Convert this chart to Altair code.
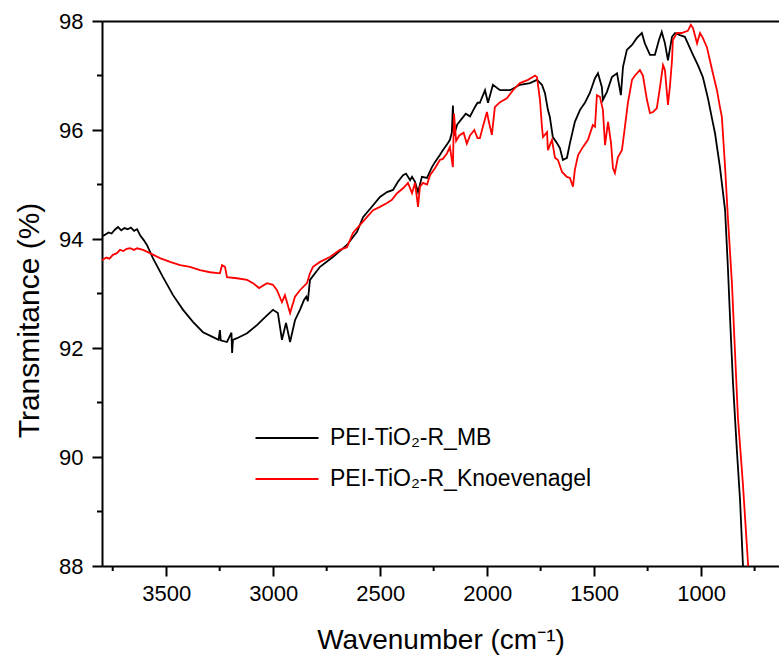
import altair as alt
import pandas as pd

# ---- data ----
mb_wn = [3800, 3785, 3770, 3755, 3740, 3725, 3710, 3695, 3680, 3665, 3650, 3636, 3622, 3605, 3590,
         3562, 3515, 3468, 3421, 3375, 3328, 3281, 3255, 3249, 3245, 3216, 3195, 3192, 3188, 3169,
         3122, 3076, 3029, 3001, 2978, 2959, 2940, 2921, 2898, 2875, 2856, 2845, 2838, 2828, 2781,
         2721, 2655, 2608, 2580, 2533, 2501, 2468, 2440, 2417, 2393, 2379, 2360, 2351, 2337, 2323,
         2305, 2281, 2258, 2244, 2221, 2207, 2183, 2174, 2165, 2160, 2155, 2140, 2120, 2100, 2080,
         2060, 2045, 2034, 2010, 1996, 1973, 1940, 1893, 1847, 1800, 1767, 1744, 1730, 1716, 1707,
         1693, 1674, 1660, 1646, 1627, 1613, 1590, 1566, 1543, 1520, 1496, 1482, 1464, 1459, 1440,
         1417, 1393, 1375, 1365, 1347, 1323, 1300, 1277, 1263, 1239, 1216, 1197, 1184, 1169, 1155,
         1136, 1122, 1099, 1076, 1062, 1038, 1015, 992, 968, 945, 935, 912, 888, 875, 865,
         851, 833, 818, 805, 798]
mb_t = [94.05, 94.08, 94.12, 94.10, 94.17, 94.22, 94.16, 94.20, 94.18, 94.21, 94.15, 94.18, 94.07, 93.98, 93.89,
        93.65, 93.30, 92.97, 92.70, 92.48, 92.29, 92.20, 92.15, 92.33, 92.14, 92.11, 92.28, 91.91, 92.15, 92.18,
        92.27, 92.42, 92.60, 92.70, 92.64, 92.15, 92.46, 92.11, 92.51, 92.70, 92.88, 92.94, 92.86, 93.25, 93.49,
        93.67, 93.89, 94.13, 94.40, 94.62, 94.77, 94.86, 94.90, 95.05, 95.17, 95.20, 95.08, 95.14, 95.05, 94.86,
        95.14, 95.12, 95.32, 95.41, 95.54, 95.63, 95.76, 95.82, 95.95, 96.45, 95.90, 96.10, 96.20, 96.30, 96.25,
        96.40, 96.50, 96.50, 96.73, 96.50, 96.83, 96.73, 96.73, 96.83, 96.86, 96.92, 96.83, 96.68, 96.37, 96.24,
        95.87, 95.76, 95.67, 95.45, 95.49, 95.76, 96.15, 96.37, 96.50, 96.68, 96.95, 97.04, 96.79, 96.55, 96.70,
        96.97, 97.04, 96.64, 97.16, 97.47, 97.56, 97.69, 97.78, 97.59, 97.38, 97.38, 97.65, 97.80, 97.59, 97.28,
        97.71, 97.78, 97.74, 97.71, 97.59, 97.38, 97.19, 96.97, 96.58, 96.13, 95.94, 95.32, 94.53, 93.49, 92.57,
        91.36, 90.13, 89.21, 88.06, 87.50]

kn_wn = [3800, 3780, 3765, 3749, 3730, 3716, 3700, 3685, 3669, 3650, 3636, 3608, 3576, 3529, 3482,
         3435, 3389, 3342, 3295, 3249, 3239, 3225, 3216, 3169, 3122, 3094, 3066, 3029, 3001, 2982,
         2959, 2945, 2921, 2898, 2875, 2842, 2828, 2814, 2781, 2735, 2688, 2655, 2627, 2594, 2562,
         2533, 2501, 2468, 2445, 2421, 2393, 2370, 2351, 2337, 2323, 2314, 2300, 2281, 2267, 2244,
         2221, 2207, 2188, 2174, 2160, 2155, 2145, 2130, 2110, 2095, 2080, 2060, 2045, 2034, 2020,
         2001, 1992, 1978, 1964, 1940, 1908, 1879, 1847, 1809, 1776, 1767, 1753, 1744, 1739, 1720,
         1716, 1697, 1683, 1669, 1650, 1627, 1613, 1599, 1590, 1575, 1552, 1529, 1506, 1496, 1487,
         1473, 1459, 1449, 1435, 1421, 1412, 1403, 1389, 1370, 1356, 1342, 1323, 1309, 1286, 1272,
         1253, 1239, 1225, 1207, 1192, 1178, 1169, 1155, 1146, 1136, 1132, 1113, 1090, 1076, 1062,
         1048, 1038, 1019, 1005, 992, 973, 959, 945, 926, 912, 903, 888, 875, 856, 842,
         828, 805, 781, 772]
kn_t = [93.61, 93.66, 93.64, 93.71, 93.74, 93.80, 93.78, 93.82, 93.83, 93.80, 93.83, 93.80, 93.74, 93.65, 93.58,
        93.52, 93.49, 93.43, 93.39, 93.37, 93.52, 93.49, 93.30, 93.28, 93.25, 93.19, 93.10, 93.19, 93.16, 93.06,
        92.84, 92.97, 92.64, 92.94, 93.06, 93.19, 93.37, 93.49, 93.58, 93.67, 93.80, 93.85, 94.11, 94.26, 94.40,
        94.53, 94.59, 94.66, 94.72, 94.84, 94.93, 95.03, 94.84, 95.03, 94.59, 94.96, 95.03, 95.00, 95.17, 95.30,
        95.45, 95.47, 95.57, 95.69, 95.32, 96.30, 95.80, 95.90, 95.95, 95.75, 95.90, 96.00, 95.85, 95.85, 96.06,
        96.33, 96.15, 95.91, 96.42, 96.51, 96.58, 96.73, 96.86, 96.92, 97.00, 96.97, 96.55, 96.06, 95.87, 95.96,
        95.63, 95.82, 95.49, 95.45, 95.23, 95.14, 95.12, 94.96, 95.27, 95.54, 95.69, 95.82, 96.09, 96.06, 96.64,
        96.61, 96.37, 95.72, 96.15, 95.76, 95.30, 95.21, 95.50, 95.63, 96.06, 96.50, 96.92, 97.00, 97.10, 97.00,
        96.55, 96.31, 96.33, 96.40, 96.79, 97.19, 97.10, 96.46, 96.79, 97.28, 97.65, 97.78, 97.78, 97.80, 97.82,
        97.93, 97.87, 97.59, 97.78, 97.69, 97.52, 97.28, 97.04, 96.73, 96.42, 96.24, 95.32, 94.40, 93.19, 91.96,
        90.73, 89.52, 88.06, 87.50]

series_names = ["PEI-TiO\u2082-R_MB", "PEI-TiO\u2082-R_Knoevenagel"]
series_colors = ["#000000", "#ff0000"]
x_major = [3500, 3000, 2500, 2000, 1500, 1000]
x_minor = [3750, 3250, 2750, 2250, 1750, 1250, 750]
y_major = [88, 90, 92, 94, 96, 98]
y_minor = [89, 91, 93, 95, 97]
x_title = "Wavenumber (cm\u207b\u00b9)"
y_title = "Transmitance (%)"

FONT = "Liberation Sans"
W, H = 677, 545

df_mb = pd.DataFrame({"wn": mb_wn, "T": mb_t, "series": series_names[0]})
df_kn = pd.DataFrame({"wn": kn_wn, "T": kn_t, "series": series_names[1]})
df_all = pd.concat([df_mb, df_kn], ignore_index=True)
df_xminor = pd.DataFrame({"v": x_minor})
df_yminor = pd.DataFrame({"v": y_minor})

xs = alt.Scale(domain=[3800, 636], nice=False, zero=False)
ys = alt.Scale(domain=[88, 98], nice=False, zero=False)

x_axis = alt.Axis(orient="bottom", values=x_major, format="d",
                  tickSize=10, tickWidth=2, tickColor="black",
                  domainWidth=2, domainColor="black", labelFont=FONT, labelFontSize=22,
                  labelColor="black", labelPadding=7, labelFlush=False, labelOverlap=False,
                  grid=False, title=x_title, titleFont=FONT, titleFontSize=28,
                  titleFontWeight="normal", titleColor="black", titleY=82,
                  titleBaseline="alphabetic")
y_axis = alt.Axis(orient="left", values=y_major, format="d",
                  tickSize=10, tickWidth=2, tickColor="black",
                  domainWidth=2, domainColor="black", labelFont=FONT, labelFontSize=22,
                  labelColor="black", labelPadding=9, labelFlush=False, labelOverlap=False,
                  grid=False, title=y_title, titleFont=FONT, titleFontSize=30,
                  titleFontWeight="normal", titleColor="black", titleX=-64, titleY=299,
                  titleBaseline="alphabetic", titleAngle=-90)
x_axis_top = alt.Axis(orient="top", ticks=False, labels=False, domain=True, domainWidth=2,
                      domainColor="black", grid=False, title=None)

color_enc = alt.Color("series:N",
                      scale=alt.Scale(domain=series_names, range=series_colors),
                      legend=alt.Legend(title=None, orient="none", legendX=173.5, legendY=405.5,
                                        symbolType="M-3,0H3", symbolSize=441, symbolStrokeWidth=2,
                                        labelFont=FONT, labelFontSize=23, labelColor="black",
                                        labelOffset=31.5, rowPadding=17, padding=0, labelLimit=0))

top = alt.Chart(df_all).mark_point(opacity=0, clip=True).encode(
    x=alt.X("wn:Q", scale=xs, axis=x_axis_top),
    y=alt.Y("T:Q", scale=ys, axis=None),
)
xminor = alt.Chart(df_xminor).mark_rule(color="black", strokeWidth=2).encode(
    x=alt.X("v:Q", scale=xs, axis=None),
    y=alt.value(H), y2=alt.value(H + 5),
)
yminor = alt.Chart(df_yminor).mark_rule(color="black", strokeWidth=2).encode(
    y=alt.Y("v:Q", scale=ys, axis=None),
    x=alt.value(-5), x2=alt.value(0),
)
black_line = alt.Chart(df_mb).mark_line(strokeWidth=1.8, clip=True).encode(
    x=alt.X("wn:Q", scale=xs, axis=x_axis),
    y=alt.Y("T:Q", scale=ys, axis=y_axis),
    color=color_enc,
    order=alt.Order("idx:Q"),
).transform_window(idx="row_number()")
red_line = alt.Chart(df_kn).mark_line(strokeWidth=1.8, clip=True).encode(
    x=alt.X("wn:Q", scale=xs, axis=None),
    y=alt.Y("T:Q", scale=ys, axis=None),
    color=color_enc,
    order=alt.Order("idx:Q"),
).transform_window(idx="row_number()")

chart = alt.layer(top, xminor, yminor, black_line, red_line).resolve_axis(
    x="independent", y="independent"
).properties(
    width=W, height=H,
    autosize=alt.AutoSizeParams(type="none"),
    padding={"left": 102, "top": 21, "right": 0, "bottom": 91},
    background="white",
).configure_view(stroke=None).configure_axis(grid=False)

chart.save("out.html", embed_options={"renderer": "svg", "actions": False})
